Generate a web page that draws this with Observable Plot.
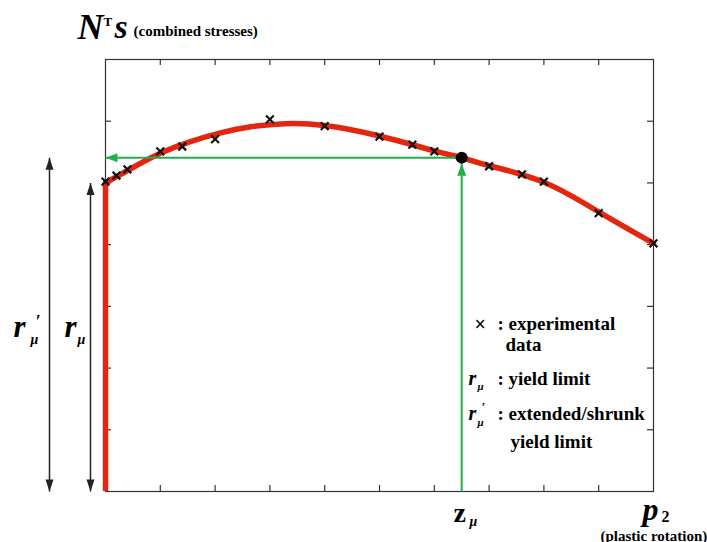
<!DOCTYPE html>
<html>
<head>
<meta charset="utf-8">
<script src="https://cdn.jsdelivr.net/npm/d3@7"></script>
<script src="https://cdn.jsdelivr.net/npm/@observablehq/plot@0.6"></script>
<style>
  body { margin: 0; background: #fff; }
</style>
</head>
<body>
<div id="chart"></div>
<script>
// Experimental measurements: plastic rotation p2 vs combined stress N^T s
const expP2 = [0, 0.2, 0.4, 1.0, 1.4, 2.0, 3.0, 4.0, 5.0, 5.6, 6.0, 7.0, 7.6, 8.0, 9.0, 10.0];
const expStress = [5.02, 5.12, 5.22, 5.51, 5.59, 5.71, 6.03, 5.92, 5.75, 5.62, 5.51, 5.27, 5.14, 5.02, 4.51, 4.02];

// Fitted hardening/softening curve
const fitP2 = [0, 0.46, 1.0, 1.55, 2.1, 2.65, 3.28, 4.0, 5.0, 6.0, 6.5, 7.0, 8.0, 9.0, 10.0];
const fitStress = [5.0, 5.23, 5.48, 5.67, 5.81, 5.91, 5.96, 5.93, 5.76, 5.52, 5.41, 5.28, 5.01, 4.53, 4.02];

// Yield limit, extended/shrunk yield limit and the plastic rotation where it is reached
const rMu = 5.0;
const rMuPrime = 5.41;
const zMu = 6.5;

// Unlabelled tick positions on the frame
const xTicks = [1, 2, 3, 4, 5, 6, 7, 8, 9];
const yTicks = [1, 2, 3, 4, 5, 6];

const W = 707, H = 542;
const ML = 105, MR = 54, MT = 59, MB = 51;
const innerW = W - ML - MR, innerH = H - MT - MB;
const SERIF = "'Liberation Serif', 'DejaVu Serif', serif";
const RED = "#e3260f", GREEN = "#1faf4b", INK = "#111";

const expData = expP2.map((p, i) => ({p2: p, s: expStress[i]}));
const fitData = fitP2.map((p, i) => ({p2: p, s: fitStress[i]}));

// Filled triangular arrowhead; `back` pulls the tip back from the line end
function headMarker(len, half, back = 0) {
  return (color, context) => {
    const doc = (context && context.document) || document;
    const ns = "http://www.w3.org/2000/svg";
    const m = doc.createElementNS(ns, "marker");
    m.setAttribute("markerUnits", "userSpaceOnUse");
    m.setAttribute("orient", "auto-start-reverse");
    m.setAttribute("overflow", "visible");
    m.setAttribute("markerWidth", "1");
    m.setAttribute("markerHeight", "1");
    m.setAttribute("refX", "0");
    m.setAttribute("refY", "0");
    const path = doc.createElementNS(ns, "path");
    path.setAttribute("d", `M${-back},0L${-back - len},${-half}L${-back - len},${half}Z`);
    path.setAttribute("fill", color);
    path.setAttribute("stroke", "none");
    m.appendChild(path);
    return m;
  };
}

// Text placed relative to the top-left corner of the frame, baseline at py
function note(str, px, py, size, {italic = false, weight = "bold", anchor = "start"} = {}) {
  return Plot.text([str], {
    text: d => d,
    frameAnchor: "top-left",
    dx: px - ML,
    dy: py - MT,
    fontSize: size,
    fontStyle: italic ? "italic" : "normal",
    fontWeight: weight,
    fontFamily: SERIF,
    textAnchor: anchor,
    lineAnchor: "bottom",
    fill: "#000"
  });
}

const chart = Plot.plot({
  width: W,
  height: H,
  marginLeft: ML,
  marginRight: MR,
  marginTop: MT,
  marginBottom: MB,
  style: {background: "#fff", fontFamily: SERIF},
  x: {domain: [0, 10], axis: null},
  y: {domain: [0, 7], axis: null},
  marks: [
    Plot.frame({stroke: "#333", strokeWidth: 1.2}),
    // inward ticks on all four sides
    Plot.tickX(xTicks, {x: d => d, insetTop: innerH - 6, stroke: "#333", strokeWidth: 1.2}),
    Plot.tickX(xTicks, {x: d => d, insetBottom: innerH - 6, stroke: "#333", strokeWidth: 1.2}),
    Plot.tickY(yTicks, {y: d => d, insetRight: innerW - 6, stroke: "#333", strokeWidth: 1.2}),
    Plot.tickY(yTicks, {y: d => d, insetLeft: innerW - 6, stroke: "#333", strokeWidth: 1.2}),

    // elastic branch up to the yield limit, then the fitted curve
    Plot.ruleX([0], {y1: 0, y2: rMu, stroke: RED, strokeWidth: 5.5}),
    Plot.line(fitData, {x: "p2", y: "s", curve: "natural", stroke: RED, strokeWidth: 5.5, strokeLinecap: "round"}),

    // read-off of the extended/shrunk yield limit at z_mu
    Plot.link([0], {x1: zMu, x2: 0, y1: rMuPrime, y2: rMuPrime, stroke: GREEN, strokeWidth: 2, markerEnd: headMarker(12, 4.5)}),
    Plot.link([0], {x1: zMu, x2: zMu, y1: 0, y2: rMuPrime, stroke: GREEN, strokeWidth: 2, markerEnd: headMarker(12, 4.5, 6)}),

    Plot.dot(expData, {x: "p2", y: "s", symbol: "times", r: 3.6, stroke: INK, strokeWidth: 2.2}),
    Plot.dot([0], {x: zMu, y: rMuPrime, r: 6, fill: "#000"}),

    // double-headed dimension arrows for r'_mu and r_mu
    Plot.link([0], {x1: 0, x2: 0, y1: 0, y2: rMuPrime, dx: -56, stroke: "#222", strokeWidth: 1.5,
      markerStart: headMarker(12, 4), markerEnd: headMarker(12, 4)}),
    Plot.link([0], {x1: 0, x2: 0, y1: 0, y2: rMu, dx: -15, stroke: "#222", strokeWidth: 1.5,
      markerStart: headMarker(12, 4), markerEnd: headMarker(12, 4)}),

    // axis titles
    note("N", 77, 38, 36, {italic: true}),
    note("T", 103, 25, 13),
    note("s", 114, 37, 34, {italic: true}),
    note("(combined stresses)", 133, 35, 15),
    note("p", 642, 519, 32, {italic: true}),
    note("2", 661, 521, 16),
    note("(plastic rotation)", 600, 540, 15),
    note("z", 453, 521, 28),
    note("μ", 469, 525, 14, {italic: true}),

    // dimension labels
    note("r", 13, 336, 31, {italic: true}),
    note("′", 35, 327, 18, {italic: true}),
    note("μ", 30, 343, 14, {italic: true}),
    note("r", 64, 336, 31, {italic: true}),
    note("μ", 77, 343, 14, {italic: true}),

    // key
    note("×", 474, 330, 20),
    note(": experimental", 497, 329, 19),
    note("data", 505, 350, 19),
    note("r", 468, 384, 20, {italic: true}),
    note("μ", 477, 389, 11, {italic: true}),
    note(": yield limit", 497, 384, 19),
    note("r", 468, 419, 20, {italic: true}),
    note("′", 481, 410, 13, {italic: true}),
    note("μ", 477, 425, 11, {italic: true}),
    note(": extended/shrunk", 497, 419, 19),
    note("yield limit", 510, 447, 19)
  ]
});

document.getElementById("chart").appendChild(chart);
</script>
</body>
</html>
